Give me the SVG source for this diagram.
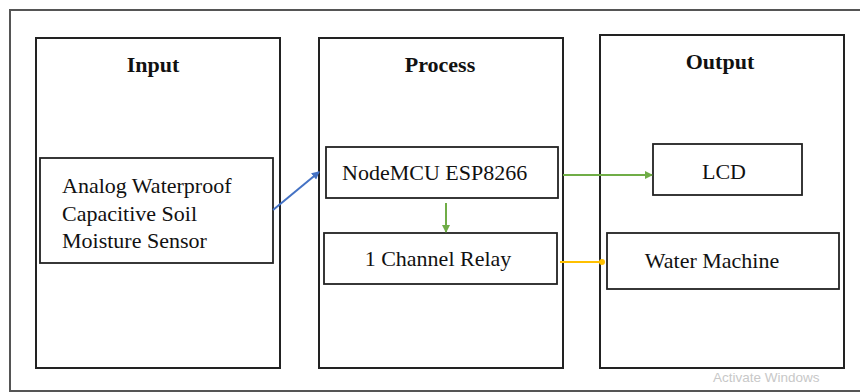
<svg xmlns="http://www.w3.org/2000/svg" width="860" height="392" viewBox="0 0 860 392">
<style>
.box{fill:#fff;stroke:#222;stroke-width:2}
.inner{fill:#fff;stroke:#222;stroke-width:1.8}
.title{font-family:"Liberation Serif",serif;font-weight:bold;font-size:22px;fill:#111;text-anchor:middle}
.lbl{font-family:"Liberation Serif",serif;font-size:22px;fill:#111}
.mid{text-anchor:middle}
.wm{font-family:"Liberation Sans",sans-serif;font-size:13.5px;fill:#c8c8c8}
</style>
<defs>
<marker id="ab" markerWidth="8" markerHeight="8" refX="7" refY="4" orient="auto" markerUnits="userSpaceOnUse"><path d="M0,0 L8,4 L0,8 z" fill="#4472c4"/></marker>
<marker id="ag" markerWidth="8" markerHeight="8" refX="7" refY="4" orient="auto" markerUnits="userSpaceOnUse"><path d="M0,0 L8,4 L0,8 z" fill="#70ad47"/></marker>
<marker id="ay" markerWidth="6" markerHeight="6" refX="3" refY="3" orient="auto" markerUnits="userSpaceOnUse"><circle cx="3" cy="3" r="3" fill="#ffc000"/></marker>
</defs>
<rect x="0" y="0" width="860" height="392" fill="#fff"/>
<rect x="10" y="10" width="860" height="381" fill="none" stroke="#555" stroke-width="2"/>
<g id="input">
<rect class="box" x="36" y="38" width="244" height="330"/>
<text class="title" x="153" y="72">Input</text>
</g>
<g id="process">
<rect class="box" x="319" y="38" width="244" height="330"/>
<text class="title" x="440" y="72">Process</text>
</g>
<g id="output">
<rect class="box" x="600" y="35" width="244" height="333"/>
<text class="title" x="720" y="69">Output</text>
</g>
<g id="sensor">
<rect class="inner" x="40" y="158" width="233" height="105"/>
<text class="lbl" x="62" y="193">Analog Waterproof</text>
<text class="lbl" x="62" y="221">Capacitive Soil</text>
<text class="lbl" x="62" y="248">Moisture Sensor</text>
</g>
<g id="nodemcu">
<rect class="inner" x="326" y="147" width="232" height="51"/>
<text class="lbl" x="342" y="180">NodeMCU ESP8266</text>
</g>
<g id="relay">
<rect class="inner" x="324" y="233" width="233" height="51"/>
<text class="lbl mid" x="438" y="266">1 Channel Relay</text>
</g>
<g id="lcd">
<rect class="inner" x="653" y="144" width="149" height="51"/>
<text class="lbl mid" x="724" y="179">LCD</text>
</g>
<g id="water">
<rect class="inner" x="607" y="233" width="232" height="56"/>
<text class="lbl mid" x="712" y="268">Water Machine</text>
</g>
<g id="connectors" fill="none" stroke-width="2">
<line x1="273" y1="210" x2="319" y2="172" stroke="#4472c4" marker-end="url(#ab)"/>
<line x1="563" y1="175" x2="652" y2="175" stroke="#70ad47" marker-end="url(#ag)"/>
<line x1="446" y1="203" x2="446" y2="232" stroke="#70ad47" marker-end="url(#ag)"/>
<line x1="560" y1="262" x2="602" y2="262" stroke="#ffc000" marker-end="url(#ay)"/>
</g>
<text class="wm" x="713" y="382">Activate Windows</text>
</svg>
